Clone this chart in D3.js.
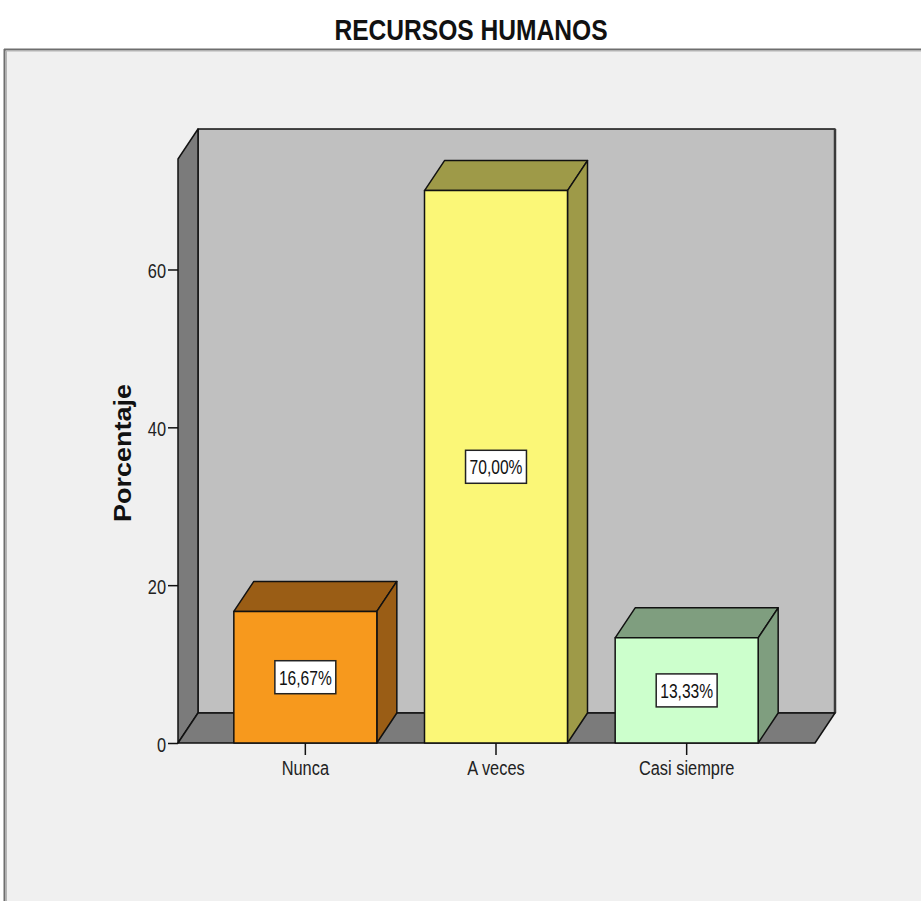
<!DOCTYPE html>
<html>
<head>
<meta charset="utf-8">
<script src="https://cdn.jsdelivr.net/npm/d3@7"></script>
<style>
  html, body { margin: 0; padding: 0; background: #ffffff; }
  svg { display: block; font-family: "Liberation Sans", Arial, sans-serif; }
</style>
</head>
<body>
<svg id="chart" width="921" height="901"></svg>
<script>
// Chart data
const categories = ["Nunca", "A veces", "Casi siempre"];
const percentages = [16.67, 70.00, 13.33];
const yTickValues = [0, 20, 40, 60];
const chartTitle = "RECURSOS HUMANOS";
const yAxisTitle = "Porcentaje";

// Fill colours (front face, top/side faces)
const frontColors = ["#f7991d", "#fbf777", "#ccffcc"];
const shadeColors = ["#9a5d15", "#9e9a48", "#7f9e7f"];

const svg = d3.select("#chart");
const squish = 0.78;           // horizontal compression of the type
const depth = { dx: 20, dy: 30 };

// Panel background and border
svg.append("rect").attr("x", 5).attr("y", 49).attr("width", 940).attr("height", 880)
  .attr("fill", "#f0f0f0");
svg.append("line").attr("x1", 4).attr("x2", 921).attr("y1", 49.5).attr("y2", 49.5)
  .attr("stroke", "#6e6e6e").attr("stroke-width", 2);
svg.append("line").attr("x1", 6).attr("x2", 921).attr("y1", 51).attr("y2", 51)
  .attr("stroke", "#b4b4b4").attr("stroke-width", 1);
svg.append("line").attr("x1", 4.5).attr("x2", 4.5).attr("y1", 49).attr("y2", 901)
  .attr("stroke", "#6e6e6e").attr("stroke-width", 2);
svg.append("line").attr("x1", 6.5).attr("x2", 6.5).attr("y1", 51).attr("y2", 901)
  .attr("stroke", "#b4b4b4").attr("stroke-width", 1);

// Scales (front plane)
const y = d3.scaleLinear().domain([0, 74]).range([743, 159]);
const x = d3.scaleBand().domain(categories).range([210, 782])
  .paddingInner(0.25).paddingOuter(0.125);
const floorLeft = 178, floorRight = 815;

const y0 = y(0), yTop = y(74);
const outline = { stroke: "#111", "stroke-width": 1.5, "stroke-linejoin": "round" };
function styled(sel) {
  Object.entries(outline).forEach(([k, v]) => sel.attr(k, v));
  return sel;
}
const pts = arr => arr.map(p => p.join(",")).join(" ");

// Back wall
styled(svg.append("rect")
  .attr("x", floorLeft + depth.dx).attr("y", yTop - depth.dy)
  .attr("width", floorRight - floorLeft).attr("height", y0 - yTop)
  .attr("fill", "#c0c0c0"));
svg.append("line")
  .attr("x1", floorRight + depth.dx).attr("x2", floorRight + depth.dx)
  .attr("y1", yTop - depth.dy).attr("y2", y0 - depth.dy)
  .attr("stroke", "#3a3a3a").attr("stroke-width", 2.5);
// Left wall
styled(svg.append("polygon")
  .attr("points", pts([[floorLeft, y0], [floorLeft, yTop], [floorLeft + depth.dx, yTop - depth.dy], [floorLeft + depth.dx, y0 - depth.dy]]))
  .attr("fill", "#7b7b7b"));
// Floor
styled(svg.append("polygon")
  .attr("points", pts([[floorLeft, y0], [floorLeft + depth.dx, y0 - depth.dy], [floorRight + depth.dx, y0 - depth.dy], [floorRight, y0]]))
  .attr("fill", "#7b7b7b"));

// Bars
const bars = svg.append("g").selectAll("g")
  .data(categories.map((c, i) => ({ c, v: percentages[i], i })))
  .join("g");

bars.each(function (d) {
  const g = d3.select(this);
  const x0 = x(d.c), x1 = x(d.c) + x.bandwidth(), yv = y(d.v);
  styled(g.append("polygon")
    .attr("points", pts([[x0, yv], [x0 + depth.dx, yv - depth.dy], [x1 + depth.dx, yv - depth.dy], [x1, yv]]))
    .attr("fill", shadeColors[d.i]));
  styled(g.append("polygon")
    .attr("points", pts([[x1, yv], [x1 + depth.dx, yv - depth.dy], [x1 + depth.dx, y0 - depth.dy], [x1, y0]]))
    .attr("fill", shadeColors[d.i]));
  styled(g.append("rect")
    .attr("x", x0).attr("y", yv).attr("width", x1 - x0).attr("height", y0 - yv)
    .attr("fill", frontColors[d.i]));

  // Value label box in the middle of the front face
  const cx = x0 + x.bandwidth() / 2, cy = (yv + y0) / 2;
  const lbl = g.append("g");
  const box = lbl.append("rect");
  const t = lbl.append("text")
    .attr("text-anchor", "middle").attr("dominant-baseline", "central")
    .attr("font-size", 20).attr("fill", "#111")
    .attr("transform", `translate(${cx},${cy + 1}) scale(${squish},1)`)
    .text(d3.format(".2f")(d.v).replace(".", ",") + "%");
  const w = t.node().getBBox().width * squish + 8;
  box.attr("x", cx - w / 2).attr("y", cy - 16.5).attr("width", w).attr("height", 33)
    .attr("fill", "#ffffff").attr("stroke", "#222").attr("stroke-width", 1.5);
});

// Y axis
const yAxis = svg.append("g").attr("transform", `translate(${floorLeft},0)`)
  .call(d3.axisLeft(y).tickValues(yTickValues).tickSize(10).tickFormat(d3.format("d")));
yAxis.select(".domain").remove();
yAxis.selectAll(".tick line").attr("stroke", "#111").attr("stroke-width", 1.5);
yAxis.selectAll(".tick text")
  .attr("x", null).attr("dy", "0.35em")
  .attr("transform", `translate(-12,1) scale(${squish},1)`)
  .attr("font-size", 21).attr("fill", "#222")
  .attr("font-family", "Liberation Sans, Arial, sans-serif");

// X axis
const xAxis = svg.append("g").attr("transform", `translate(0,${y0})`)
  .call(d3.axisBottom(x).tickSize(12));
xAxis.select(".domain").remove();
xAxis.selectAll(".tick line").attr("stroke", "#111").attr("stroke-width", 1.5);
xAxis.selectAll(".tick text")
  .attr("y", null).attr("dy", null)
  .attr("transform", `translate(0,32) scale(${squish},1)`)
  .attr("font-size", 21).attr("fill", "#222")
  .attr("font-family", "Liberation Sans, Arial, sans-serif");

// Axis title
svg.append("text")
  .attr("transform", `translate(131,453) rotate(-90) scale(1,0.9)`)
  .attr("text-anchor", "middle")
  .attr("font-size", 27).attr("font-weight", "bold").attr("fill", "#111")
  .text(yAxisTitle);

// Chart title
svg.append("text")
  .attr("transform", `translate(471,40) scale(0.82,1)`)
  .attr("text-anchor", "middle")
  .attr("font-size", 30).attr("font-weight", "bold").attr("fill", "#111")
  .text(chartTitle);
</script>
</body>
</html>
